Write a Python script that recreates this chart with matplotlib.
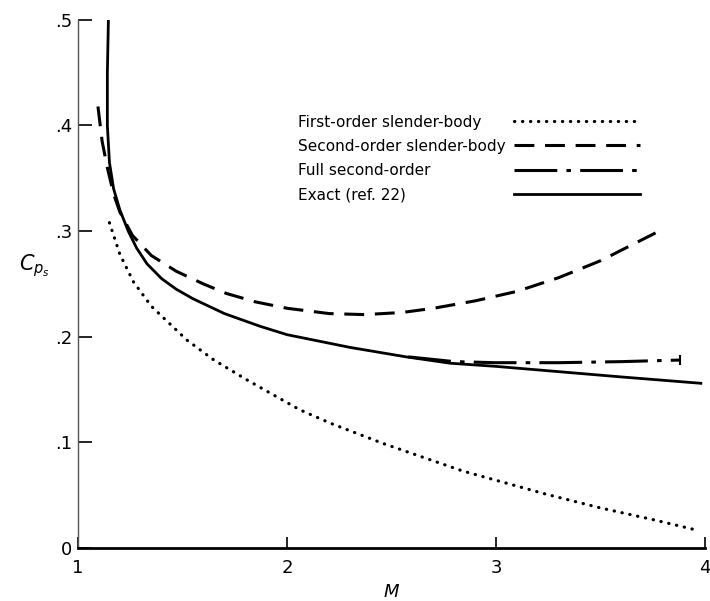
import matplotlib
matplotlib.use("Agg")
import matplotlib.pyplot as plt
from matplotlib.ticker import FuncFormatter

# first-order slender-body (dotted)
m_first = [1.15, 1.2, 1.265, 1.35, 1.52, 1.65, 1.81, 2.06, 2.21, 2.46, 2.84, 3.04, 3.24, 3.5, 3.75, 3.94]
cp_first = [0.308, 0.278, 0.252, 0.229, 0.197, 0.178, 0.159, 0.131, 0.118, 0.099, 0.073, 0.062, 0.051, 0.038, 0.027, 0.018]

# second-order slender-body (dashed)
m_second = [1.095, 1.115, 1.14, 1.17, 1.2, 1.26, 1.35, 1.47, 1.6, 1.71, 1.85, 2.0, 2.2, 2.37, 2.55, 2.7, 2.9, 3.1, 3.3, 3.5, 3.78]
cp_second = [0.418, 0.385, 0.36, 0.335, 0.318, 0.296, 0.277, 0.262, 0.25, 0.241, 0.233, 0.227, 0.222, 0.221, 0.223, 0.227, 0.234, 0.243, 0.256, 0.272, 0.30]

# full second-order (dash-dot)
m_full = [2.58, 2.8, 3.0, 3.3, 3.6, 3.88]
cp_full = [0.181, 0.1765, 0.1755, 0.1755, 0.1765, 0.178]

# exact (ref. 22)
m_exact = [1.145, 1.14, 1.14, 1.15, 1.17, 1.2, 1.24, 1.28, 1.33, 1.4, 1.47, 1.55, 1.7, 1.87, 2.0, 2.3, 2.57, 2.78, 3.0, 3.3, 3.6, 3.98]
cp_exact = [0.50, 0.45, 0.40, 0.365, 0.34, 0.32, 0.30, 0.284, 0.269, 0.255, 0.245, 0.236, 0.222, 0.21, 0.202, 0.19, 0.181, 0.175, 0.172, 0.167, 0.162, 0.156]

x_ticks = [1, 2, 3, 4]
y_ticks = [0, 0.1, 0.2, 0.3, 0.4, 0.5]

fig = plt.figure(figsize=(7.1, 6.01), dpi=100)
ax = fig.add_axes([0.110, 0.088, 0.883, 0.879])

ax.plot(m_first, cp_first, color='black', lw=2.3, linestyle=(0, (0.1, 2.4)),
        dash_capstyle='round', label='First-order slender-body')
ax.plot(m_second, cp_second, color='black', lw=2.2, linestyle=(0, (6.5, 3.5)),
        label='Second-order slender-body')
ax.plot(m_full, cp_full, color='black', lw=2.2, linestyle=(0, (14, 3, 1.5, 3)),
        label='Full second-order')
ax.plot(m_full[-1:], cp_full[-1:], color='black', marker='|', markersize=7, mew=1.5)
ax.plot(m_exact, cp_exact, color='black', lw=2.0, label='Exact (ref. 22)')

ax.set_xlim(1, 4)
ax.set_ylim(0, 0.5)
ax.set_xticks(x_ticks)
ax.set_yticks(y_ticks)
ax.xaxis.set_major_formatter(FuncFormatter(lambda v, _: f'{int(v)}'))
ax.yaxis.set_major_formatter(FuncFormatter(lambda v, _: '0' if v == 0 else f'{v:.1f}'.lstrip('0')))

for s in ['top', 'right']:
    ax.spines[s].set_visible(False)
ax.spines['left'].set_color('#555555')
ax.spines['left'].set_linewidth(1.0)
ax.spines['bottom'].set_linewidth(2.0)
ax.tick_params(axis='y', direction='in', length=10, width=1.2, labelsize=13, pad=4)
ax.tick_params(axis='x', direction='in', length=8, width=1.2, labelsize=13, pad=8)

ax.set_xlabel('$M$', fontsize=13, labelpad=4)
ax.set_ylabel('$C_{p_s}$', fontsize=15, rotation=0)
ax.yaxis.set_label_coords(-0.07, 0.51)

leg = ax.legend(loc='upper left', bbox_to_anchor=(0.339, 0.835), frameon=False,
                markerfirst=False, fontsize=11, handlelength=8.3, handletextpad=0.5,
                labelspacing=0.6, borderpad=0)

# left-align the label texts, keeping the line samples in one column
fig.canvas.draw()
r = fig.canvas.get_renderer()
widths = [t.get_window_extent(r).width * 72 / fig.dpi for t in leg.texts]
wmax = max(widths)
for col in leg._legend_handle_box.get_children():
    col.align = 'left'
    for item, w in zip(col.get_children(), widths):
        item.sep = item.sep + (wmax - w)

fig.savefig('out.png', dpi=100)
